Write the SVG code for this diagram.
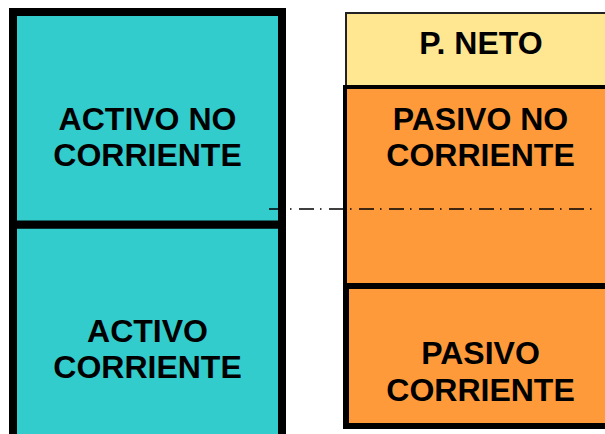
<svg xmlns="http://www.w3.org/2000/svg" width="605" height="434" viewBox="0 0 605 434">
  <style>
    .lbl { font-family: "Liberation Sans", Arial, sans-serif; font-weight: bold; font-size: 32px; fill: #000; text-anchor: middle; }
    .teal { fill: #33CCCC; stroke: #000; stroke-width: 8; }
    .orange { fill: #FF9A3A; stroke: #000; }
    .yellow { fill: #FFE690; stroke: #222; stroke-width: 2; }
    .dashdot { fill: none; stroke: #000; stroke-width: 1.4; stroke-dasharray: 15 6 1.5 7.5; }
  </style>
  <rect width="605" height="434" fill="#fff"/>
  <g id="activo-corriente">
    <rect class="teal" x="13" y="224.5" width="269" height="230"/>
    <text class="lbl" x="147.5" y="342">ACTIVO</text>
    <text class="lbl" x="147.5" y="378">CORRIENTE</text>
  </g>
  <g id="activo-no-corriente">
    <rect class="teal" x="13" y="12" width="269" height="212.5"/>
    <text class="lbl" x="147.5" y="130">ACTIVO NO</text>
    <text class="lbl" x="147.5" y="166">CORRIENTE</text>
  </g>
  <g id="p-neto">
    <rect class="yellow" x="346" y="13" width="280" height="74"/>
    <text class="lbl" x="481" y="54">P. NETO</text>
  </g>
  <g id="pasivo-no-corriente">
    <rect class="orange" stroke-width="4" x="345" y="87" width="280" height="198"/>
    <text class="lbl" x="480.5" y="130">PASIVO NO</text>
    <text class="lbl" x="480.5" y="166">CORRIENTE</text>
  </g>
  <g id="pasivo-corriente">
    <rect class="orange" stroke-width="6" x="346" y="286" width="280" height="140"/>
    <text class="lbl" x="480.5" y="364">PASIVO</text>
    <text class="lbl" x="480.5" y="401">CORRIENTE</text>
  </g>
  <g id="connectors">
    <line class="dashdot" x1="269" y1="209" x2="594" y2="209"/>
  </g>
</svg>
